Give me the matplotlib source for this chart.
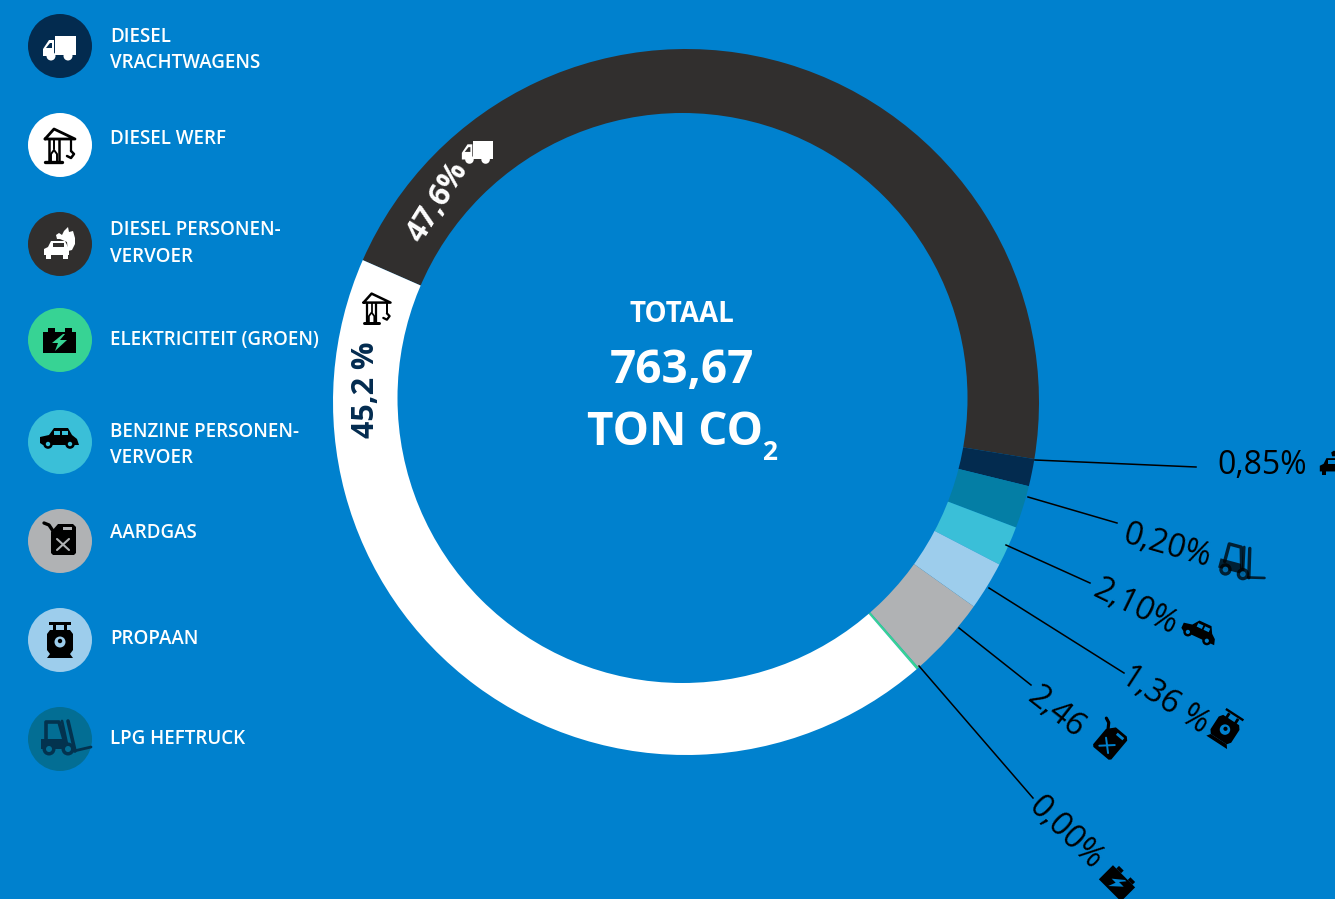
import numpy as np
import matplotlib
matplotlib.use('Agg')
import matplotlib.pyplot as plt
from matplotlib.patches import Circle, Polygon

# Ring shares as drawn in the picture (they differ a little from the printed labels)
segment_names = ["Diesel personenvervoer", "Diesel vrachtwagens", "LPG heftruck", "Benzine personenvervoer",
                 "Propaan", "Aardgas", "Elektriciteit", "Diesel werf"]
segment_shares = [46.0, 1.25, 1.95, 1.83, 2.22, 3.72, 0.12, 42.91]
segment_colors = ["#312F2E", "#032B4F", "#047EA5", "#3ABFD8", "#9DCDEC", "#B0B2B4", "#37D394", "#FFFFFF"]

legend_lines = [["DIESEL", "VRACHTWAGENS"], ["DIESEL WERF"], ["DIESEL PERSONEN-", "VERVOER"],
                ["ELEKTRICITEIT (GROEN)"], ["BENZINE PERSONEN-", "VERVOER"], ["AARDGAS"], ["PROPAAN"], ["LPG HEFTRUCK"]]
legend_colors = ["#032B4F", "#FFFFFF", "#312F2E", "#37D394", "#3ABFD8", "#B0B2B4", "#9DCDEC", "#036E94"]
legend_icons = ["truck", "crane", "fire_car", "battery", "car", "can", "propane", "forklift"]

outer_labels = ["0,85%", "0,20%", "2,10%", "1,36 %", "2,46", "0,00%"]
outer_icons = ["fire_car", "forklift", "car", "propane", "can", "battery"]

BG = "#0081CE"
H = 899


def py(y):
    return H - y


def place(pts, cx, cy, s, rot):
    # local icon points are pixels around the icon centre, y pointing down
    a = np.radians(rot)
    pts = np.asarray(pts, dtype=float) * s
    x = pts[:, 0] * np.cos(a) - pts[:, 1] * np.sin(a) + cx
    y = pts[:, 0] * np.sin(a) + pts[:, 1] * np.cos(a) + cy
    return np.column_stack([x, H - y])


def draw_icon(ax, name, cx, cy, color, accent, s=1.0, rot=0, alpha=1.0):
    def poly(pts, c=color):
        ax.add_patch(Polygon(place(pts, cx, cy, s, rot), closed=True, fc=c, ec="none", alpha=alpha, zorder=6))

    def rect(x0, y0, x1, y1, c=color):
        poly([(x0, y0), (x1, y0), (x1, y1), (x0, y1)], c)

    def dot(x, y, r, c=color):
        ax.add_patch(Circle(place([(x, y)], cx, cy, s, rot)[0], r * s, fc=c, ec="none", alpha=alpha, zorder=6))

    def line(pts, lw=2.0, c=color):
        xy = place(pts, cx, cy, s, rot)
        ax.plot(xy[:, 0], xy[:, 1], color=c, lw=lw * s, alpha=alpha, zorder=6, solid_capstyle="round")

    if name == "truck":
        rect(-5, -10, 16, 9)
        poly([(-17, 10), (-17, 3), (-11, -6), (-6, -6), (-6, 10)])
        poly([(-14, 2), (-10, -3), (-8, -3), (-8, 2)], accent)
        dot(-9, 10, 4.5)
        dot(8, 10, 4.5)
    elif name == "crane":
        line([(-15, -6), (-6, -16), (15, -6), (-15, -6)], 2.0)
        line([(-11, -6), (-11, 16)], 1.8)
        line([(-1, -6), (-1, 16)], 1.8)
        line([(-6, -6), (-6, 4)], 1.4)
        line([(-9, 16), (-9, 9), (-6, 5), (-3, 9), (-3, 16)], 1.4)
        line([(-15, 17), (2, 17)], 2.4)
        line([(11, -6), (11, 6)], 1.6)
        line([(11, 6), (14, 9), (11, 13), (7, 11)], 1.8)
    elif name == "fire_car":
        poly([(-4, -9), (-1, -11), (2, -9), (4, -13), (8, -17), (9, -12), (13, -13), (15, -6), (15, 0), (12, 6),
              (8, 7), (7, -2), (0, -5), (-3, -5)])
        poly([(-16, 5), (-12, 3), (-9, -3), (5, -3), (8, 3), (9, 6), (9, 11), (-16, 11)])
        rect(-7, -1, 4, 3, accent)
        rect(-14, 10, -9, 15)
        rect(3, 10, 8, 15)
    elif name == "battery":
        rect(-17, -8, 16, 13)
        rect(-12, -12, -5, -8)
        rect(5, -12, 12, -8)
        poly([(3, -6), (-8, 3), (-2, 3), (-5, 11), (7, 0), (0, 0), (5, -6)], accent)
    elif name == "car":
        poly([(-20, 1), (-20, -5), (-11, -7), (-6, -14), (8, -14), (12, -7), (17, -3), (19, 3), (-17, 3)])
        rect(-6, -11, 0, -7, accent)
        rect(2, -11, 8, -7, accent)
        dot(-12, 2, 4.8)
        dot(10, 2, 4.8)
        dot(-12, 2, 2.2, accent)
        dot(10, 2, 2.2, accent)
    elif name == "can":
        poly([(-9, -9), (-2, -17), (13, -17), (16, -14), (16, 12), (14, 14), (-7, 14), (-9, 12)])
        line([(-16, -18), (-11, -16), (-7, -10)], 2.4)
        rect(3, -14, 12, -11, accent)
        line([(-3, -2), (9, 9)], 1.5, accent)
        line([(9, -2), (-3, 9)], 1.5, accent)
    elif name == "propane":
        rect(-11, -18, 11, -15.5)
        rect(-7, -15, -4, -9)
        rect(4, -15, 7, -9)
        poly([(-10, -10), (10, -10), (13, -6), (13, 10), (10, 14), (-10, 14), (-13, 10), (-13, -6)])
        dot(0, 2, 5.5, accent)
        dot(0, 1, 2.2, color)
        poly([(-10, 14), (10, 14), (13, 18), (-13, 18)])
    elif name == "forklift":
        line([(-14, 2), (-14, -17), (-1, -17), (5, 4)], 2.6)
        line([(8, -18), (15, 12)], 2.6)
        line([(2, -18), (8, 10)], 2.0)
        poly([(-19, 0), (3, 0), (8, 10), (-19, 10)])
        dot(-11, 10, 6.5)
        dot(8, 10, 6.5)
        dot(-11, 10, 3, accent)
        dot(8, 10, 3, accent)
        line([(14, 12), (31, 8)], 2.0)


plt.rcParams['font.family'] = ['Open Sans', 'DejaVu Sans']
fig = plt.figure(figsize=(13.35, 8.99), dpi=100, facecolor=BG)
ax = fig.add_axes([0, 0, 1, 1])

# Ring: full pie with the hole laid on top, the hole sits slightly off centre as in the picture
ax.pie(segment_shares, colors=segment_colors, startangle=156.3, counterclock=False,
       center=(686, py(402)), radius=353, frame=True, wedgeprops={"linewidth": 0})
ax.add_patch(Circle((682.5, py(398)), 285, fc=BG, ec="none", zorder=3))

ax.set_xlim(0, 1335)
ax.set_ylim(0, H)
ax.set_aspect("equal")
ax.axis("off")

# Legend
legend_y = [46, 145, 244, 340, 442, 541, 640, 739]
line_y = [[35, 61], [137], [227.5, 254.5], [338], [429.5, 455.5], [531], [637], [737]]
accents = ["#032B4F", "#FFFFFF", "#312F2E", "#37D394", "#3ABFD8", "#B0B2B4", "#9DCDEC", "#036E94"]
icon_ink = ["#FFFFFF", "#000000", "#FFFFFF", "#000000", "#000000", "#000000", "#000000", "#03334F"]
for i in range(len(legend_icons)):
    ax.add_patch(Circle((60, py(legend_y[i])), 32, fc=legend_colors[i], ec="none", zorder=5))
    draw_icon(ax, legend_icons[i], 60, legend_y[i], icon_ink[i], accents[i], s=1.0)
    for txt, y in zip(legend_lines[i], line_y[i]):
        ax.text(110, py(y), txt, color="white", fontsize=13.5, fontweight="semibold",
                va="center_baseline", ha="left", zorder=7)

# Centre text
ax.text(682, py(311), "TOTAAL", color="white", fontsize=20, fontweight="bold", ha="center", va="center_baseline", zorder=7)
ax.text(682, py(365), "763,67", color="white", fontsize=33, fontweight="bold", ha="center", va="center_baseline", zorder=7)
ax.text(675, py(427), "TON CO", color="white", fontsize=33, fontweight="bold", ha="center", va="center_baseline", zorder=7)
ax.text(770, py(450), "2", color="white", fontsize=19, fontweight="bold", ha="center", va="center_baseline", zorder=7)

# Labels on the ring
ax.text(435, py(200), "47,6%", color="white", fontsize=22, fontweight="bold", rotation=58,
        rotation_mode="anchor", ha="center", va="center_baseline", zorder=7)
ax.text(363, py(390), "45,2 %", color="#032B4F", fontsize=22, fontweight="bold", rotation=90,
        rotation_mode="anchor", ha="center", va="center_baseline", zorder=7)
draw_icon(ax, "truck", 478, 150, "white", "#312F2E", s=0.95)
draw_icon(ax, "crane", 377, 308, "black", "white", s=0.9)

# Leader lines with rotated labels and icons
lead_start = [(1035, 460), (1028, 497), (1006, 545), (989, 588), (959, 628), (919, 666)]
lead_end = [(1196, 467), (1117, 523), (1090, 583), (1124, 673), (1031, 685), (1033, 798)]
label_xy = [(1262, 462), (1168, 543), (1137, 604), (1167, 697), (1058, 709), (1068, 830)]
label_rot = [0, -16, -26, -33, -38, -44]
icon_xy = [(1335, 461), (1238, 563), (1199, 635), (1226, 728), (1107, 741), (1119, 882)]
icon_rot = [0, 15, 25, 33, 40, 45]
icon_alpha = [1, 0.75, 1, 1, 1, 1]
for i in range(len(outer_labels)):
    ax.plot([lead_start[i][0], lead_end[i][0]], [py(lead_start[i][1]), py(lead_end[i][1])],
            color="black", lw=1.1, zorder=4)
    ax.text(label_xy[i][0], py(label_xy[i][1]), outer_labels[i], color="black", fontsize=23,
            rotation=label_rot[i], rotation_mode="anchor", ha="center", va="center_baseline", zorder=7)
    draw_icon(ax, outer_icons[i], icon_xy[i][0], icon_xy[i][1], "black", BG, s=0.95, rot=icon_rot[i], alpha=icon_alpha[i])

fig.savefig("out.png", dpi=100, facecolor=BG)
